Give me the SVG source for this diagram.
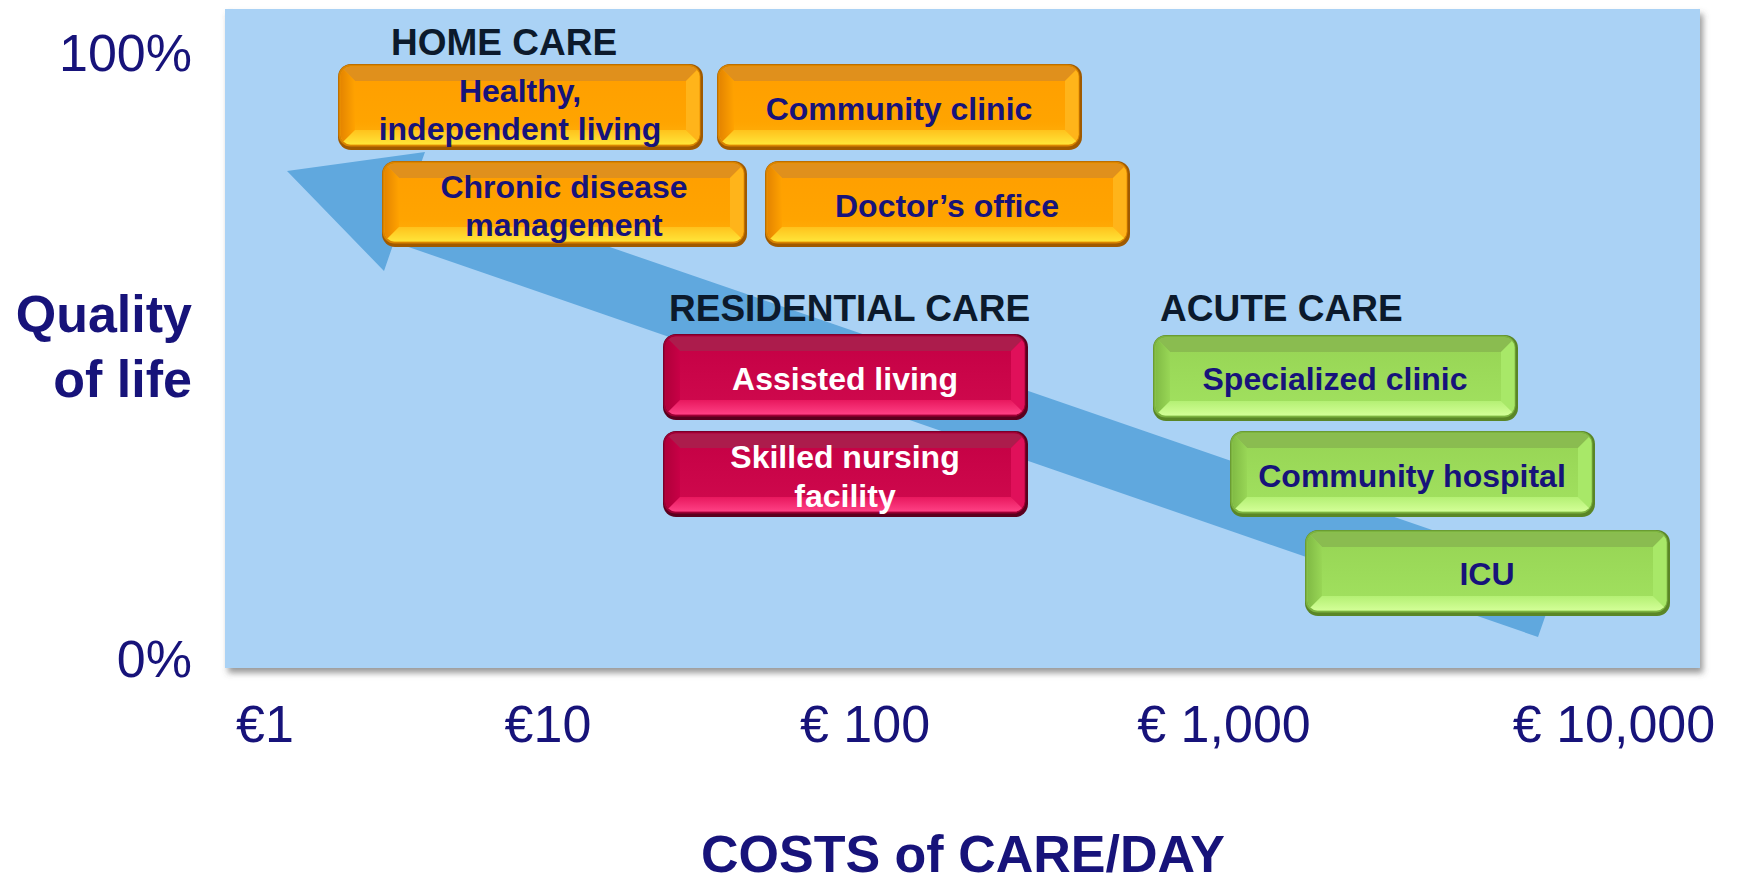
<svg xmlns="http://www.w3.org/2000/svg" xmlns:xlink="http://www.w3.org/1999/xlink" width="1737" height="884" viewBox="0 0 1737 884">
<style>
.hdr{font-family:"Liberation Sans",Arial,sans-serif;font-weight:bold;font-size:37px;fill:#0C1A2C}
.bt{font-family:"Liberation Sans",Arial,sans-serif;font-weight:bold;font-size:32px;fill:#17137A;text-anchor:middle}
.wt{fill:#FFFFFF}
.ax{font-family:"Liberation Sans",Arial,sans-serif;font-size:52px;fill:#17137A}
.axb{font-family:"Liberation Sans",Arial,sans-serif;font-weight:bold;font-size:52px;fill:#17137A}
</style>
<defs>
  <filter id="psh" x="-5%" y="-5%" width="110%" height="115%">
    <feDropShadow dx="3" dy="5" stdDeviation="3" flood-color="#555" flood-opacity="0.6"/>
  </filter>
  <clipPath id="ci"><rect x="2.5" y="2.5" width="359" height="78" rx="10"/></clipPath>
  <linearGradient id="oL" x1="0" y1="0" x2="1" y2="0"><stop offset="0" stop-color="#E48400"/><stop offset="1" stop-color="#FFA200"/></linearGradient>
  <linearGradient id="oB" x1="0" y1="0" x2="0" y2="1"><stop offset="0" stop-color="#FFC21C"/><stop offset="1" stop-color="#FFE63A"/></linearGradient>
  <linearGradient id="oC" x1="0" y1="0" x2="0" y2="1"><stop offset="0" stop-color="#FF9E00"/><stop offset="0.7" stop-color="#FFA400"/><stop offset="1" stop-color="#FFB410"/></linearGradient>
  <linearGradient id="rL" x1="0" y1="0" x2="1" y2="0"><stop offset="0" stop-color="#B0003A"/><stop offset="1" stop-color="#C80046"/></linearGradient>
  <linearGradient id="rB" x1="0" y1="0" x2="0" y2="1"><stop offset="0" stop-color="#E8185E"/><stop offset="1" stop-color="#FF4286"/></linearGradient>
  <linearGradient id="rC" x1="0" y1="0" x2="0" y2="1"><stop offset="0" stop-color="#C40044"/><stop offset="1" stop-color="#D00A4E"/></linearGradient>
  <linearGradient id="gL" x1="0" y1="0" x2="1" y2="0"><stop offset="0" stop-color="#80BA44"/><stop offset="1" stop-color="#98D656"/></linearGradient>
  <linearGradient id="gB" x1="0" y1="0" x2="0" y2="1"><stop offset="0" stop-color="#B4F074"/><stop offset="1" stop-color="#D4FF98"/></linearGradient>
  <linearGradient id="gC" x1="0" y1="0" x2="0" y2="1"><stop offset="0" stop-color="#96D454"/><stop offset="1" stop-color="#A2E260"/></linearGradient>
  <g id="bxO">
    <rect width="365" height="86" rx="13" fill="#A05A00"/>
    <rect x="0.5" y="0.5" width="362" height="82" rx="12" fill="#D98400"/>
    <g clip-path="url(#ci)">
      <rect x="2" y="2" width="361" height="80" fill="url(#oC)"/>
      <polygon points="2,2 363,2 348,17 17,17" fill="#E0901C"/>
      <polygon points="2,2 17,17 17,66 2,81" fill="url(#oL)"/>
      <polygon points="363,2 348,17 348,66 363,81" fill="#FFB41A"/>
      <polygon points="2,81 363,81 348,66 17,66" fill="url(#oB)"/>
    </g>
  </g>
  <g id="bxR">
    <rect width="365" height="86" rx="13" fill="#5A001E"/>
    <rect x="0.5" y="0.5" width="362" height="82" rx="12" fill="#9C0034"/>
    <g clip-path="url(#ci)">
      <rect x="2" y="2" width="361" height="80" fill="url(#rC)"/>
      <polygon points="2,2 363,2 348,17 17,17" fill="#AC1C4C"/>
      <polygon points="2,2 17,17 17,66 2,81" fill="url(#rL)"/>
      <polygon points="363,2 348,17 348,66 363,81" fill="#E0105A"/>
      <polygon points="2,81 363,81 348,66 17,66" fill="url(#rB)"/>
    </g>
  </g>
  <g id="bxG">
    <rect width="365" height="86" rx="13" fill="#5A8626"/>
    <rect x="0.5" y="0.5" width="362" height="82" rx="12" fill="#7CB240"/>
    <g clip-path="url(#ci)">
      <rect x="2" y="2" width="361" height="80" fill="url(#gC)"/>
      <polygon points="2,2 363,2 348,17 17,17" fill="#8ABC50"/>
      <polygon points="2,2 17,17 17,66 2,81" fill="url(#gL)"/>
      <polygon points="363,2 348,17 348,66 363,81" fill="#A8E868"/>
      <polygon points="2,81 363,81 348,66 17,66" fill="url(#gB)"/>
    </g>
  </g>
</defs>

<rect width="1737" height="884" fill="#FFFFFF"/>
<g id="panel">
  <rect x="225" y="9" width="1475" height="659" fill="#AAD2F5" filter="url(#psh)"/>
</g>

<g id="connectors">
  <polygon points="287,171 425,152 415,180 1560,574 1538,637 394,242 384,271" fill="#60A8DE"/>
</g>

<g id="axes">
  <text class="ax" x="192" y="71" text-anchor="end">100%</text>
  <text class="ax" x="192" y="677" text-anchor="end">0%</text>
  <text class="axb" x="192" y="332" text-anchor="end">Quality</text>
  <text class="axb" x="192" y="397" text-anchor="end">of life</text>
  <text class="ax" x="265" y="742" text-anchor="middle">€1</text>
  <text class="ax" x="548" y="742" text-anchor="middle">€10</text>
  <text class="ax" x="865" y="742" text-anchor="middle">€ 100</text>
  <text class="ax" x="1224" y="742" text-anchor="middle">€ 1,000</text>
  <text class="ax" x="1614" y="742" text-anchor="middle">€ 10,000</text>
  <text class="axb" x="963" y="872" text-anchor="middle" font-size="54">COSTS of CARE/DAY</text>
</g>

<g id="headers">
  <text class="hdr" x="391" y="55">HOME CARE</text>
  <text class="hdr" x="669" y="321">RESIDENTIAL CARE</text>
  <text class="hdr" x="1160" y="321">ACUTE CARE</text>
</g>

<g id="node-healthy">
  <use xlink:href="#bxO" x="338" y="64"/>
  <text class="bt" x="520" y="102">Healthy,</text>
  <text class="bt" x="520" y="140">independent living</text>
</g>
<g id="node-community-clinic">
  <use xlink:href="#bxO" x="717" y="64"/>
  <text class="bt" x="899" y="120">Community clinic</text>
</g>
<g id="node-chronic">
  <use xlink:href="#bxO" x="382" y="161"/>
  <text class="bt" x="564" y="198">Chronic disease</text>
  <text class="bt" x="564" y="236">management</text>
</g>
<g id="node-doctor">
  <use xlink:href="#bxO" x="765" y="161"/>
  <text class="bt" x="947" y="217">Doctor’s office</text>
</g>
<g id="node-assisted">
  <use xlink:href="#bxR" x="663" y="334"/>
  <text class="bt wt" x="845" y="390">Assisted living</text>
</g>
<g id="node-skilled">
  <use xlink:href="#bxR" x="663" y="431"/>
  <text class="bt wt" x="845" y="468">Skilled nursing</text>
  <text class="bt wt" x="845" y="507">facility</text>
</g>
<g id="node-specialized">
  <use xlink:href="#bxG" x="1153" y="335"/>
  <text class="bt" x="1335" y="390">Specialized clinic</text>
</g>
<g id="node-community-hospital">
  <use xlink:href="#bxG" x="1230" y="431"/>
  <text class="bt" x="1412" y="487">Community hospital</text>
</g>
<g id="node-icu">
  <use xlink:href="#bxG" x="1305" y="530"/>
  <text class="bt" x="1487" y="585">ICU</text>
</g>
</svg>
